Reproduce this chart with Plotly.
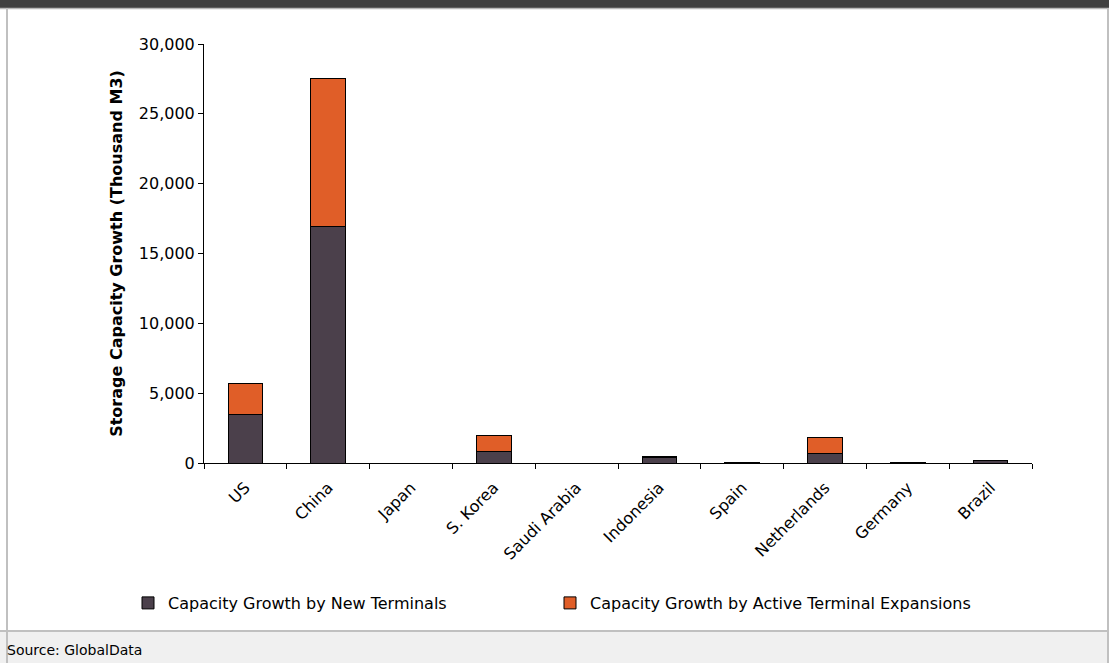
import plotly.graph_objects as go

countries = ["US", "China", "Japan", "S. Korea", "Saudi Arabia", "Indonesia",
             "Spain", "Netherlands", "Germany", "Brazil"]
new_terminals = [3500, 16950, 0, 850, 0, 400, 60, 700, 60, 200]
expansions = [2200, 10550, 0, 1150, 0, 80, 0, 1100, 0, 0]

name_new = "Capacity Growth by New Terminals"
name_exp = "Capacity Growth by Active Terminal Expansions"

W, H = 1109, 663
L, R, T, B = 204, 77, 44, 200
PW, PH = W - L - R, H - T - B


def px(x):
    return (x - L) / PW


def py(y):
    return (H - B - y) / PH


fig = go.Figure()
fig.add_trace(go.Bar(x=countries, y=new_terminals, name=name_new, legend="legend",
                     marker=dict(color="#4b404b", line=dict(color="#000000", width=1)),
                     width=0.42))
fig.add_trace(go.Bar(x=countries, y=expansions, name=name_exp, legend="legend2",
                     marker=dict(color="#e05e28", line=dict(color="#000000", width=1)),
                     width=0.42))

font = "DejaVu Sans, Liberation Sans, Arial, sans-serif"
leg_common = dict(orientation="h", xanchor="left", yanchor="middle", y=py(603),
                  font=dict(size=16), itemwidth=30, bgcolor="rgba(0,0,0,0)")
fig.update_layout(
    barmode="stack",
    width=W, height=H,
    margin=dict(l=L, r=R, t=T, b=B),
    paper_bgcolor="white", plot_bgcolor="white",
    font=dict(family=font, size=15, color="#000000"),
    showlegend=True,
    legend=dict(x=px(128), **leg_common),
    legend2=dict(x=px(550), **leg_common),
    xaxis=dict(showline=True, linecolor="#000000", linewidth=1, ticks="outside",
               ticklen=5, tickcolor="#000000", tickson="boundaries", tickangle=-45,
               ticklabelstandoff=8,
               showgrid=False, tickfont=dict(size=16)),
    yaxis=dict(range=[0, 30000], dtick=5000, tickformat=",d", showline=True,
               linecolor="#000000", linewidth=1, ticks="outside", ticklen=5,
               tickcolor="#000000", showgrid=False, zeroline=False,
               tickfont=dict(size=16),
               title=dict(text="<b>Storage Capacity Growth (Thousand M3)</b>",
                          font=dict(size=16), standoff=12)),
    shapes=[
        dict(type="rect", xref="paper", yref="paper", x0=px(0), x1=px(W),
             y0=py(8), y1=py(-2), fillcolor="#404040", line=dict(width=0), layer="below"),
        dict(type="line", xref="paper", yref="paper", x0=px(0), x1=px(W),
             y0=py(8.5), y1=py(8.5), line=dict(color="#b8b8b8", width=1.5)),
        dict(type="rect", xref="paper", yref="paper", x0=px(0), x1=px(W),
             y0=py(H), y1=py(631), fillcolor="#f0f0f0",
             line=dict(width=0), layer="below"),
        dict(type="line", xref="paper", yref="paper", x0=px(0), x1=px(W),
             y0=py(631), y1=py(631), line=dict(color="#c0c0c0", width=2)),
        dict(type="line", xref="paper", yref="paper", x0=px(7), x1=px(7),
             y0=py(H), y1=py(8), line=dict(color="#c0c0c0", width=2)),
        dict(type="line", xref="paper", yref="paper", x0=px(W - 1), x1=px(W - 1),
             y0=py(H), y1=py(8), line=dict(color="#c0c0c0", width=2)),
    ],
    annotations=[
        dict(text="Source: GlobalData", xref="paper", yref="paper",
             x=px(5), y=py(650), xanchor="left", yanchor="middle",
             showarrow=False, font=dict(size=14, family=font)),
    ],
)

fig.write_html("out.html", config={"displayModeBar": False},
               post_script="document.body.style.margin='0';")
